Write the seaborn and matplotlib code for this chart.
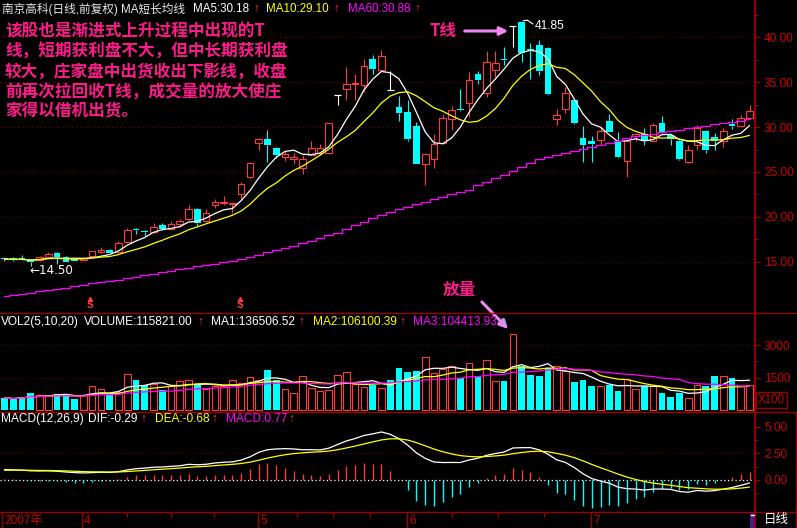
import numpy as np
import pandas as pd
import matplotlib
matplotlib.use("Agg")
import matplotlib.pyplot as plt
import seaborn as sns
from matplotlib.lines import Line2D
from matplotlib.patches import Rectangle

# style
sns.set_style("dark")
plt.rcParams['font.family'] = ['Liberation Sans', 'Noto Sans CJK SC', 'DejaVu Sans']

# -----------------------------
# Data (daily bars, Mar-Jul 2007)
# -----------------------------
opens = [15.45, 15.37, 15.42, 15.22, 15.19, 15.55, 15.97, 15.55, 15.30, 15.20,
         15.60, 16.05, 16.35, 16.05, 17.15, 18.70, 18.45, 18.30, 19.10, 18.70,
         19.20, 19.72, 20.88, 19.50, 21.33, 21.55, 21.42, 22.60, 24.40, 28.25,
         28.70, 27.70, 26.65, 26.40, 25.46, 26.94, 27.13, 27.13, 33.55, 34.27,
         34.83, 34.72, 37.54, 36.40, 34.11, 32.20, 31.66, 30.10, 25.90, 26.46,
         28.20, 30.90, 32.05, 32.67, 35.95, 33.80, 36.40, 37.60, 41.30, 41.70,
         38.70, 39.10, 38.85, 30.93, 32.04, 33.00, 28.75, 28.40, 28.60, 30.70,
         28.40, 26.20, 29.00, 29.25, 28.50, 30.44, 29.17, 28.50, 26.10, 27.95,
         29.60, 28.90, 28.50, 30.30, 30.10, 31.00]
highs = [15.55, 15.50, 15.72, 15.30, 15.60, 16.10, 16.05, 15.60, 15.40, 15.50,
         16.25, 16.60, 16.40, 17.30, 18.80, 18.75, 18.50, 19.35, 19.30, 19.55,
         19.75, 21.30, 20.95, 20.90, 22.00, 22.30, 21.70, 23.85, 26.10, 28.75,
         29.70, 27.75, 27.30, 27.10, 26.90, 28.50, 28.10, 30.50, 33.55, 36.70,
         35.90, 37.54, 38.00, 38.55, 36.30, 33.50, 33.00, 30.55, 27.10, 29.25,
         31.50, 32.40, 34.20, 36.10, 36.20, 38.47, 38.47, 38.90, 41.30, 41.85,
         39.40, 39.75, 38.90, 32.04, 34.45, 33.10, 30.07, 29.06, 30.00, 31.50,
         29.50, 28.60, 29.30, 29.90, 30.50, 31.20, 29.20, 28.60, 28.00, 30.20,
         29.70, 29.30, 29.90, 30.90, 31.30, 32.50]
lows = [15.10, 15.10, 15.22, 14.50, 15.10, 15.50, 14.80, 15.00, 15.05, 15.15,
        15.55, 15.95, 15.95, 16.00, 17.10, 18.10, 17.90, 18.25, 18.50, 18.65,
        18.90, 19.65, 18.95, 19.40, 21.00, 21.30, 20.40, 22.00, 24.30, 27.40,
        26.10, 26.60, 26.20, 25.90, 24.80, 26.90, 26.90, 27.00, 32.50, 33.00,
        33.00, 33.90, 35.90, 36.30, 34.11, 30.70, 28.50, 25.85, 23.50, 25.50,
        28.10, 29.70, 31.80, 31.10, 34.80, 33.40, 35.60, 36.95, 38.90, 37.30,
        35.40, 35.80, 33.60, 30.18, 31.60, 30.30, 26.10, 26.10, 28.00, 29.40,
        26.60, 24.40, 28.50, 28.00, 28.40, 29.20, 28.00, 26.30, 26.00, 27.40,
        27.10, 27.50, 27.80, 29.80, 30.00, 30.90]
closes = [15.30, 15.22, 15.30, 14.95, 15.48, 15.90, 15.48, 15.03, 15.12, 15.40,
          16.20, 16.35, 16.00, 17.10, 18.55, 18.58, 18.30, 18.90, 18.60, 19.20,
          19.57, 20.88, 19.28, 20.43, 21.70, 21.65, 21.60, 23.67, 26.00, 28.70,
          27.95, 26.85, 26.95, 26.70, 26.46, 27.70, 27.70, 30.48, 33.55, 34.83,
          34.94, 36.80, 36.50, 37.90, 34.11, 31.55, 28.70, 25.90, 27.00, 28.10,
          31.04, 31.85, 31.95, 35.20, 35.20, 37.30, 37.10, 37.50, 41.30, 38.30,
          38.55, 36.30, 33.70, 31.37, 33.80, 30.44, 27.95, 28.17, 29.60, 29.50,
          26.64, 28.50, 29.25, 28.40, 30.25, 29.37, 28.70, 26.40, 27.46, 29.93,
          27.40, 28.50, 29.60, 30.07, 30.96, 31.74]
# volume in units of 100 hands
volumes = [560, 500, 605, 786, 680, 680, 758, 712, 500, 680,
           1090, 985, 680, 833, 1667, 1364, 1136, 1182, 909, 1090,
           1318, 1394, 1182, 985, 1090, 1090, 1364, 1258, 1515, 1394,
           1864, 1364, 955, 803, 1561, 1030, 864, 909, 1621, 1773,
           1182, 1050, 1136, 1030, 1364, 1923, 1742, 1788, 2455, 1727,
           1894, 2030, 1485, 2182, 1561, 2303, 1318, 1318, 3485, 2045,
           1636, 1591, 1939, 2030, 1818, 1273, 1364, 1090, 1090, 1167,
           864, 1439, 985, 1090, 1090, 788, 606, 788, 576, 1167,
           1090, 1550, 1560, 1500, 1090, 1158]
# MA60 (needs history before the window)
ma60 = [11.20, 11.33, 11.46, 11.58, 11.71, 11.85, 11.98, 12.12, 12.26, 12.40,
        12.60, 12.73, 12.86, 13.02, 13.18, 13.34, 13.50, 13.67, 13.83, 14.00,
        14.16, 14.33, 14.50, 14.65, 14.80, 14.95, 15.10, 15.33, 15.57, 15.81,
        16.05, 16.30, 16.55, 16.80, 17.05, 17.35, 17.65, 17.93, 18.23, 18.65,
        19.05, 19.45, 19.90, 20.20, 20.55, 20.85, 21.12, 21.40, 21.68, 21.95,
        22.22, 22.50, 22.78, 23.05, 23.50, 23.90, 24.30, 24.70, 25.15, 25.60,
        26.05, 26.40, 26.65, 26.90, 27.15, 27.38, 27.55, 27.78, 28.00, 28.25,
        28.50, 28.75, 28.98, 29.10, 29.25, 29.40, 29.55, 29.70, 29.85, 30.00,
        30.15, 30.30, 30.43, 30.58, 30.73, 30.88]
month_labels = ["2007年", "4", "5", "6", "7"]
month_start = [-0.28, 8.84, 28.9, 45.9, 66.9]
week_marks = [14.0, 19.0, 23.9, 33.4, 37.5, 41.7, 51.1, 56.3, 61.6]

df = pd.DataFrame({"open": opens, "high": highs, "low": lows,
                   "close": closes, "vol": volumes, "ma60": ma60})
df["x"] = np.arange(len(df))
df["ma5"] = df["close"].rolling(5, min_periods=1).mean()
df["ma10"] = df["close"].rolling(10, min_periods=1).mean()
df["vma5"] = df["vol"].rolling(5, min_periods=1).mean()
df["vma10"] = df["vol"].rolling(10, min_periods=1).mean()
df["vma20"] = df["vol"].rolling(20, min_periods=1).mean()

# MACD(12,26,9), EMA state carried in from before the window
e12, e26, dea = 14.6, 13.6, 0.9
difs, deas = [], []
for c in df["close"]:
    e12 += (c - e12) * 2 / 13
    e26 += (c - e26) * 2 / 27
    d = e12 - e26
    dea += (d - dea) * 2 / 10
    difs.append(d)
    deas.append(dea)
df["dif"] = difs
df["dea"] = deas
df["macd"] = 2 * (df["dif"] - df["dea"])

# -----------------------------
# Figure layout
# -----------------------------
W, H = 797, 528
RED = "#ff3c3c"
CYAN = "#00ffff"
AXC = "#990000"
GRID = "#800000"
TICK = "#cc0000"
PINK = "#ff1a8c"
VIOLET = "#ee88ee"

fig = plt.figure(figsize=(W / 100, H / 100), dpi=100, facecolor="black")


def panel(y0, y1):
    a = fig.add_axes([0, 1 - y1 / H, 755 / W, (y1 - y0) / H])
    a.set_facecolor("black")
    for s in ["left", "top", "bottom"]:
        a.spines[s].set_visible(False)
    a.spines["right"].set_color(AXC)
    a.spines["right"].set_linewidth(1.2)
    a.set_xticks([])
    a.set_xlim(-0.513, 85.62)
    a.yaxis.tick_right()
    a.tick_params(axis="y", which="both", colors=AXC, labelcolor=TICK,
                  labelsize=8.6, width=0.8, pad=3)
    a.tick_params(axis="y", which="major", length=3.5)
    a.tick_params(axis="y", which="minor", length=2.2)
    a.grid(False)
    return a


ax_p = panel(0, 313)
ax_v = panel(313, 411.7)
ax_m = panel(411.7, 512)
ax_d = panel(512, 528)

x = df["x"].values
o, hi, lo, c = (df[k].values for k in ["open", "high", "low", "close"])
rise = c > o
fall = c < o
flat = c == o
prev = np.r_[c[0], c[:-1]]
vol_up = rise | (flat & (c >= prev))

# -----------------------------
# 1. Price panel
# -----------------------------
for v in [15, 20, 25, 30, 35, 40]:
    ax_p.axhline(v, color=GRID, ls=(0, (1, 3)), lw=0.8, zorder=0)
col = np.where(rise, RED, np.where(fall, CYAN, "white"))
ax_p.vlines(x, np.maximum(o, c), hi, colors=col, lw=0.8, zorder=2)
ax_p.vlines(x, lo, np.minimum(o, c), colors=col, lw=0.8, zorder=2)
ax_p.bar(x[rise], (c - o)[rise], bottom=o[rise], width=0.76,
         facecolor="black", edgecolor=RED, lw=0.8, zorder=2)
ax_p.bar(x[fall], np.maximum((o - c)[fall], 0.1), bottom=c[fall], width=0.76,
         color=CYAN, lw=0, zorder=2)
ax_p.hlines(o[flat], x[flat] - 0.4, x[flat] + 0.4, colors="white", lw=0.9, zorder=2)

sns.lineplot(data=df, x="x", y="ma5", ax=ax_p, color="white", lw=0.9, zorder=3)
sns.lineplot(data=df, x="x", y="ma10", ax=ax_p, color="#ffff00", lw=0.9, zorder=3)
sns.lineplot(data=df, x="x", y="ma60", ax=ax_p, color="#ff00ff", lw=0.9, zorder=3,
             drawstyle="steps-mid")
ax_p.set_ylim(9.30, 44.15)
ax_p.set_yticks([15, 20, 25, 30, 35, 40])
ax_p.set_yticklabels(["%.2f" % v for v in [15, 20, 25, 30, 35, 40]])
ax_p.set_yticks([17.5, 22.5, 27.5, 32.5, 37.5, 42.5], minor=True)

# -----------------------------
# 2. Volume panel
# -----------------------------
for v in [1500, 3000]:
    ax_v.axhline(v, color=GRID, ls=(0, (1, 3)), lw=0.8, zorder=0)
vv = df["vol"].values
ax_v.bar(x[vol_up], vv[vol_up], width=0.76, facecolor="black",
         edgecolor=RED, lw=0.8, zorder=2)
ax_v.bar(x[~vol_up], vv[~vol_up], width=0.76, color=CYAN, lw=0, zorder=2)
sns.lineplot(data=df, x="x", y="vma5", ax=ax_v, color="white", lw=0.9, zorder=3)
sns.lineplot(data=df, x="x", y="vma10", ax=ax_v, color="#ffff00", lw=0.9, zorder=3)
sns.lineplot(data=df, x="x", y="vma20", ax=ax_v, color="#ff00ff", lw=0.9, zorder=3)
ax_v.set_ylim(-78, 4477)
ax_v.set_yticks([1500, 3000])
ax_v.set_yticklabels(["1500", "3000"])
ax_v.set_yticks([2250], minor=True)

# -----------------------------
# 3. MACD panel
# -----------------------------
ax_m.axhline(2.5, color=GRID, ls=(0, (1, 3)), lw=0.8, zorder=0)
ax_m.axhline(0, color="white", ls=(0, (1, 2)), lw=0.9, zorder=1)
mv = df["macd"].values
ax_m.vlines(x, 0, mv, colors=np.where(mv > 0, RED, CYAN), lw=1.0, zorder=2)
sns.lineplot(data=df, x="x", y="dif", ax=ax_m, color="white", lw=0.9, zorder=3)
sns.lineplot(data=df, x="x", y="dea", ax=ax_m, color="#ffff00", lw=0.9, zorder=3)
ax_m.set_ylim(-3.0, 6.4)
ax_m.set_yticks([0, 2.5, 5])
ax_m.set_yticklabels(["0.00", "2.50", "5.00"])
ax_m.set_yticks([-1.25, 1.25, 3.75], minor=True)

for a in [ax_p, ax_v, ax_m]:
    a.set_xlim(-0.513, 85.62)
    a.set_xlabel("")
    a.set_ylabel("")

# -----------------------------
# 4. Date bar
# -----------------------------
ax_d.set_ylim(0, 1)
ax_d.set_yticks([])
ax_d.vlines(month_start, 0, 1, colors=AXC, lw=1.0)
ax_d.vlines(week_marks, 0.7, 1, colors=AXC, lw=1.0)
for pos, lab in zip(month_start, month_labels):
    ax_d.text(pos + 0.25, 0.42, lab, color=TICK, fontsize=8.6, va="center")


# -----------------------------
# Frame and texts (figure pixels)
# -----------------------------
def fx(px):
    return px / W


def fy(py):
    return 1 - py / H


def line(x0, y0, x1, y1, color=AXC, lw=1.0):
    fig.add_artist(Line2D([fx(x0), fx(x1)], [fy(y0), fy(y1)],
                          transform=fig.transFigure, color=color, lw=lw))


for yy in [313, 411.7, 512]:
    line(0, yy, W, yy)
line(796, 411.7, 796, 528)
line(755, 0, 755, 528, lw=1.2)

fig.add_artist(Rectangle((fx(756), fy(408)), 31 / W, 16 / H, transform=fig.transFigure,
                         fill=False, edgecolor=AXC, lw=1.0))
fig.text(fx(771.5), fy(400), "X100", color=TICK, fontsize=8.3, ha="center", va="center")
fig.add_artist(Rectangle((fx(750), fy(528)), 5 / W, 16 / H, transform=fig.transFigure,
                         color="#4b1c8c", lw=0))
line(751, 515, 754, 515, color="white")
fig.text(fx(776), fy(520), "日线", color="white", fontsize=9, ha="center", va="center")


def t(px, py, s, color, size=8.6, **kw):
    fig.text(fx(px), fy(py), s, color=color, fontsize=size, ha="left", va="center", **kw)


# title rows
t(2, 9, "南京高科(日线,前复权) MA短长均线", "#e8e8e8", size=8.4)
t(193, 9, "MA5:30.18", "white", size=8.4)
t(253, 9, "↑", RED, size=8.4)
t(266, 9, "MA10:29.10", "#ffff00", size=8.4)
t(333, 9, "↑", RED, size=8.4)
t(348, 9, "MA60:30.88", "#ff00ff", size=8.4)
t(414, 9, "↑", RED, size=8.4)

t(1, 322, "VOL2(5,10,20)", "white")
t(84, 322, "VOLUME:115821.00", "white")
t(197, 322, "↑", RED)
t(211, 322, "MA1:136506.52", "white")
t(298, 322, "↑", RED)
t(313, 322, "MA2:106100.39", "#ffff00")
t(399, 322, "↑", RED)
t(413, 322, "MA3:104413.93", "#ff00ff")
t(500, 322, "↓", CYAN)

t(1, 419, "MACD(12,26,9)", "white")
t(88, 419, "DIF:-0.29", "white")
t(140, 419, "↑", RED)
t(155, 419, "DEA:-0.68", "#ffff00")
t(211, 419, "↑", RED)
t(226, 419, "MACD:0.77", "#ff00ff")
t(288, 419, "↑", RED)

# commentary
notes = ["该股也是渐进式上升过程中出现的T",
         "线，短期获利盘不大，但中长期获利盘",
         "较大，庄家盘中出货收出下影线，收盘",
         "前再次拉回收T线，成交量的放大使庄",
         "家得以借机出货。"]
for k, s in enumerate(notes):
    t(5, 31 + k * 20.2, s, PINK, size=12, fontweight="bold",
      family=["Noto Sans CJK SC", "DejaVu Sans"])

t(430, 31, "T线", PINK, size=12, fontweight="bold",
  family=["Noto Sans CJK SC", "DejaVu Sans"])
fig.add_artist(matplotlib.patches.FancyArrowPatch(
    (fx(462), fy(31)), (fx(511), fy(31)), transform=fig.transFigure,
    arrowstyle="-|>", mutation_scale=12, color=VIOLET, lw=2.2))

t(443, 290, "放量", PINK, size=12, fontweight="bold",
  family=["Noto Sans CJK SC", "DejaVu Sans"])
fig.add_artist(matplotlib.patches.FancyArrowPatch(
    (fx(480), fy(300)), (fx(510), fy(331)), transform=fig.transFigure,
    arrowstyle="-|>", mutation_scale=12, color=VIOLET, lw=2.2))

t(535, 26, "41.85", "white", size=8.6)
line(523, 20, 527, 20, color="white", lw=0.8)
line(527, 20, 533, 24, color="white", lw=0.8)
t(29, 270, "←14.50", "white", size=8.6, family=["DejaVu Sans"])

for sx in [90, 240]:
    t(sx - 3, 305, "S", RED, size=7, fontweight="bold")
    fig.add_artist(Line2D([fx(sx)], [fy(299)], transform=fig.transFigure,
                          marker="^", ms=3, color=RED, lw=0))

plt.savefig("out.png", dpi=100, facecolor="black")
